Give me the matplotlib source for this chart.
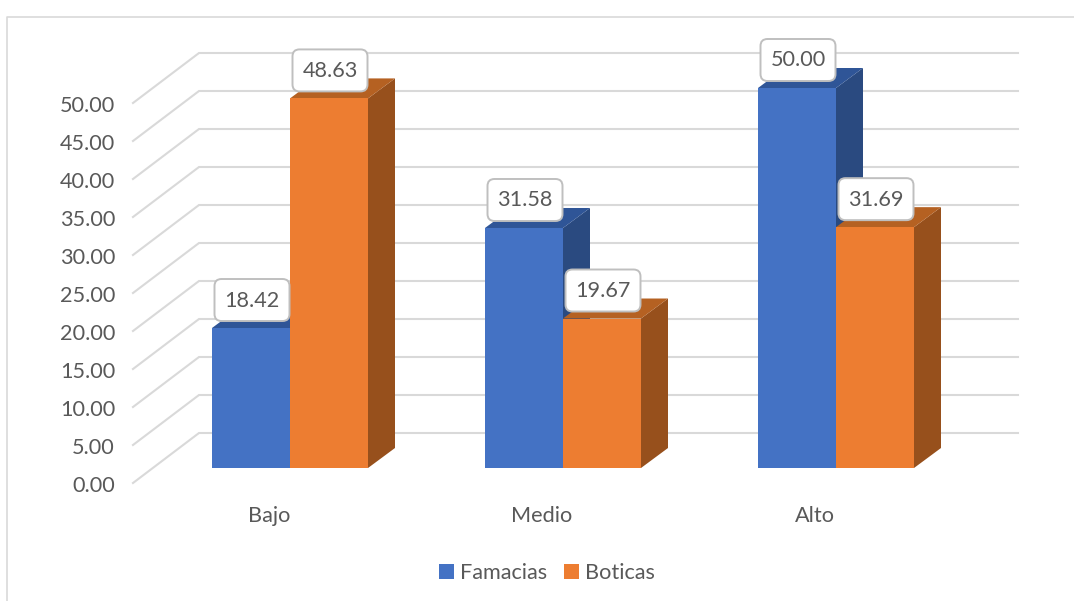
import matplotlib
matplotlib.use("Agg")
import matplotlib.pyplot as plt
from matplotlib.patches import FancyBboxPatch, Polygon, Rectangle
from matplotlib.transforms import IdentityTransform

categorias = ["Bajo", "Medio", "Alto"]
famacias = [18.42, 31.58, 50.00]
boticas = [48.63, 19.67, 31.69]
marcas = [0, 5, 10, 15, 20, 25, 30, 35, 40, 45, 50]

plt.rcParams["font.family"] = ["Lato", "DejaVu Sans"]

W, H = 1074, 601
PX_CAT = 273.0   # pixels per category
PX_VAL = 7.6     # pixels per unit of value
dx = 1 / PX_CAT
dy = 1 / PX_VAL
GRIS = "#595959"
FS = 15.6

fig = plt.figure(figsize=(W / 100, H / 100), dpi=100)
ax = fig.add_axes([0, 0, 1, 1])
ax.set_xlim(-290 * dx, (W - 290) * dx)
ax.set_ylim((468 - H) * dy, 468 * dy)
ax.axis("off")

# marco
ax.plot([7 * dx - 290 * dx] * 2 + [(W - 290) * dx], [(468 - H) * dy, 451 * dy, 451 * dy],
        color="#D9D9D9", lw=1.2, zorder=1, clip_on=False)

# rejilla: plano frontal -> pared de fondo
x_front = (133 - 290) * dx
x_back = (199 - 290) * dx
x_end = (1018 - 290) * dx
for m in marcas:
    y_front = m - 15 * dy
    y_back = m + 35 * dy
    ax.plot([x_front, x_back, x_end], [y_front, y_back, y_back],
            color="#D9D9D9", lw=1.5, zorder=2, solid_joinstyle="miter")
    ax.text(x_front - 18 * dx, y_front - 3.5 * dy, f"{m:.2f}", ha="right", va="center",
            fontsize=FS, color=GRIS, zorder=6)

ANCHO = 78 * dx
PROF_X = 27 * dx
PROF_Y = 20 * dy


def barra_3d(x0, valor, frente, tapa, lado, z):
    x1 = x0 + ANCHO
    ax.add_patch(Polygon([(x1, 0), (x1 + PROF_X, PROF_Y), (x1 + PROF_X, valor + PROF_Y), (x1, valor)],
                         closed=True, fc=lado, ec="none", zorder=z))
    ax.add_patch(Polygon([(x0, valor), (x0 + PROF_X, valor + PROF_Y), (x1 + PROF_X, valor + PROF_Y), (x1, valor)],
                         closed=True, fc=tapa, ec="none", zorder=z))
    ax.add_patch(Rectangle((x0, 0), ANCHO, valor, fc=frente, ec="none", zorder=z + 0.1))


def etiqueta(xc, valor):
    yc = valor + 28 * dy
    px, py = ax.transData.transform((xc, yc))
    # caja de tamano fijo en pixeles
    ax.add_patch(FancyBboxPatch((px - 37.5 + 5, py - 21 + 5), 65, 32,
                                boxstyle="round,pad=5,rounding_size=7", fc="white", ec="#BFBFBF", lw=1.4,
                                transform=IdentityTransform(), zorder=9))
    ax.text(xc, yc - 0.5 * dy, f"{valor:.2f}", ha="center", va="center", fontsize=FS, color=GRIS, zorder=10)


for i, cat in enumerate(categorias):
    barra_3d(i - ANCHO, famacias[i], "#4472C4", "#2F5597", "#2A4A80", 3 + i * 0.01)
    barra_3d(i, boticas[i], "#ED7D31", "#B56122", "#97501C", 4 + i * 0.01)
    ax.text(i - 21 * dx, -48 * dy, cat, ha="center", va="center", fontsize=FS, color=GRIS)

for i in range(len(categorias)):
    etiqueta(i - ANCHO / 2 + 1 * dx, famacias[i])
    etiqueta(i + ANCHO / 2 + 1 * dx, boticas[i])

h1 = Rectangle((0, 0), 1, 1, fc="#4472C4")
h2 = Rectangle((0, 0), 1, 1, fc="#ED7D31")
fig.legend([h1, h2], ["Famacias", "Boticas"], loc="center", bbox_to_anchor=(547 / W, 1 - 573 / H),
           ncol=2, frameon=False, fontsize=FS, labelcolor=GRIS, handlelength=0.7, handleheight=0.7,
           handletextpad=0.3, columnspacing=0.75)

fig.savefig("out.png", dpi=100)
plt.close(fig)
